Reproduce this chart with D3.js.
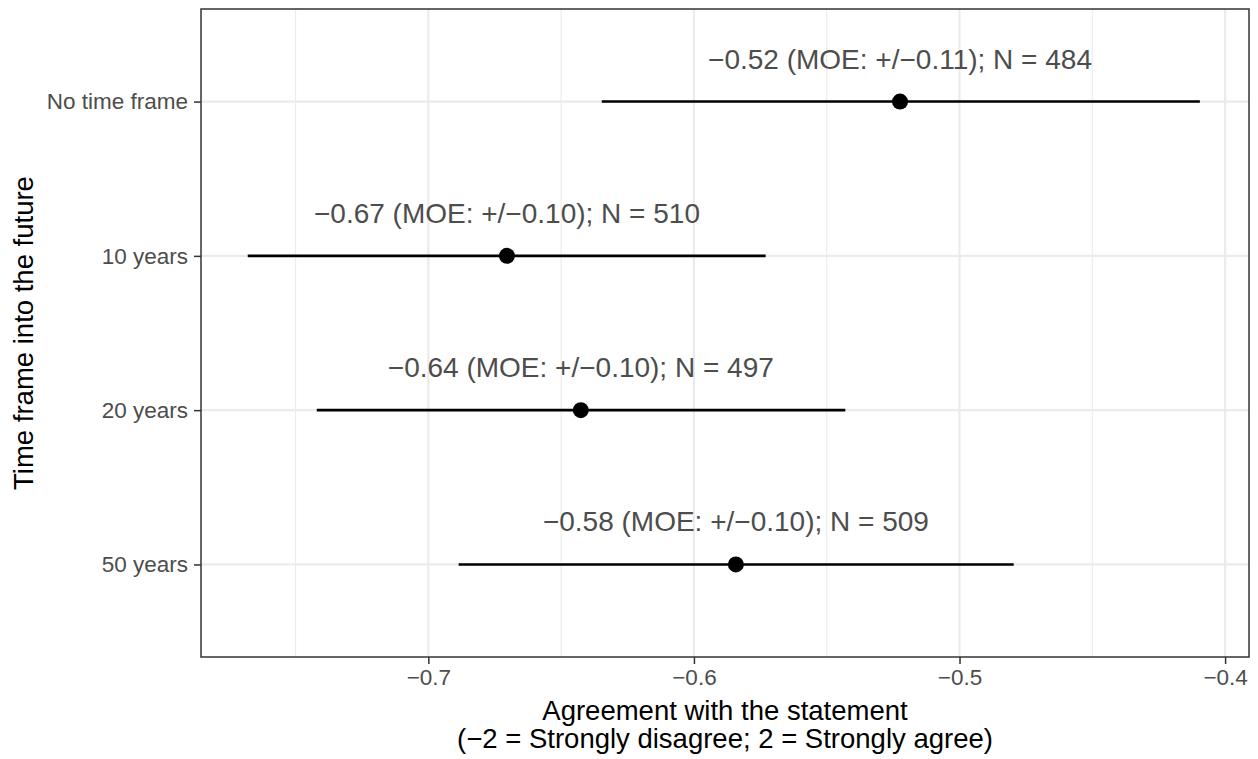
<!DOCTYPE html>
<html><head><meta charset="utf-8">
<script src="https://cdn.jsdelivr.net/npm/d3@7"></script>
<style>body{margin:0;background:#fff}svg{display:block}text{font-family:"Liberation Sans",Arial,sans-serif}</style>
</head><body><svg id="c" width="1258" height="759"></svg>
<script>
const categories = ["No time frame","10 years","20 years","50 years"];
const means = [-0.5224, -0.6704, -0.6426, -0.5842];
const lower = [-0.6347, -0.768, -0.742, -0.6886];
const upper = [-0.4095, -0.573, -0.543, -0.4796];
const labels = ["\u22120.52 (MOE: +/\u22120.11); N = 484","\u22120.67 (MOE: +/\u22120.10); N = 510","\u22120.64 (MOE: +/\u22120.10); N = 497","\u22120.58 (MOE: +/\u22120.10); N = 509"];
const xTicks = [-0.7,-0.6,-0.5,-0.4];
const xMinor = [-0.75,-0.65,-0.55,-0.45];

const svg = d3.select("#c");
const L=201, R=1249, T=9, B=657;
const x = d3.scaleLinear().domain([-0.7856,-0.391]).range([L,R]);
const y = d3.scalePoint().domain(categories).range([T,B]).padding(0.6);

const g = svg.append("g");
g.selectAll(".mn").data(xMinor).join("line").attr("x1",d=>x(d)).attr("x2",d=>x(d)).attr("y1",T).attr("y2",B).attr("stroke","#ebebeb").attr("stroke-width",1.1);
g.selectAll(".mj").data(xTicks).join("line").attr("x1",d=>x(d)).attr("x2",d=>x(d)).attr("y1",T).attr("y2",B).attr("stroke","#ebebeb").attr("stroke-width",2.2);
g.selectAll(".yg").data(categories).join("line").attr("x1",L).attr("x2",R).attr("y1",d=>y(d)).attr("y2",d=>y(d)).attr("stroke","#ebebeb").attr("stroke-width",2.2);

g.selectAll(".eb").data(categories).join("line")
 .attr("x1",(d,i)=>x(lower[i])).attr("x2",(d,i)=>x(upper[i]))
 .attr("y1",d=>y(d)).attr("y2",d=>y(d)).attr("stroke","#000").attr("stroke-width",2.6);
g.selectAll(".pt").data(categories).join("circle")
 .attr("cx",(d,i)=>x(means[i])).attr("cy",d=>y(d)).attr("r",8).attr("fill","#000");
g.selectAll(".lb").data(categories).join("text")
 .attr("x",(d,i)=>x(means[i])).attr("y",d=>y(d)-33)
 .attr("text-anchor","middle").attr("font-size",28).attr("fill","#4d4d4d").text((d,i)=>labels[i]);

svg.append("rect").attr("x",L).attr("y",T).attr("width",R-L).attr("height",B-T).attr("fill","none").attr("stroke","#333").attr("stroke-width",1.5);

const xa = svg.append("g").attr("transform",`translate(0,${B})`)
 .call(d3.axisBottom(x).tickValues(xTicks).tickSize(7).tickPadding(5).tickFormat(d=>d3.format(".1f")(d).replace("-","\u2212")));
xa.select(".domain").remove();
xa.selectAll(".tick line").attr("stroke","#333").attr("stroke-width",1.5);
xa.selectAll("text").attr("font-size",22.5).attr("fill","#4d4d4d").attr("font-family","Liberation Sans, Arial, sans-serif");

const ya = svg.append("g").attr("transform",`translate(${L},0)`)
 .call(d3.axisLeft(y).tickSize(7).tickPadding(6));
ya.select(".domain").remove();
ya.selectAll(".tick line").attr("stroke","#333").attr("stroke-width",1.5);
ya.selectAll("text").attr("font-size",22.5).attr("fill","#4d4d4d").attr("font-family","Liberation Sans, Arial, sans-serif");

svg.append("text").attr("x",(L+R)/2).attr("y",720).attr("text-anchor","middle").attr("font-size",27.5).attr("fill","#000").text("Agreement with the statement");
svg.append("text").attr("x",(L+R)/2).attr("y",748).attr("text-anchor","middle").attr("font-size",27.5).attr("fill","#000").text("(\u22122 = Strongly disagree; 2 = Strongly agree)");
svg.append("text").attr("transform",`translate(33,${(T+B)/2}) rotate(-90)`).attr("text-anchor","middle").attr("font-size",27.5).attr("fill","#000").text("Time frame into the future");
</script></body></html>
